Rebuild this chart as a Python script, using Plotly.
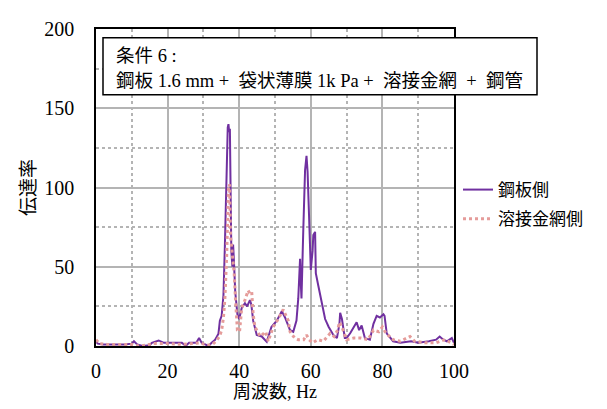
import plotly.graph_objects as go

# 鋼板側 (steel plate side)
freq_plate = [0, 0.5, 2, 5, 8, 10, 10.6, 11.5, 13, 15, 15.6, 17.5, 19, 22, 24, 24.6, 25, 26, 28, 28.8,
              29.5, 30.5, 31.4, 32.3, 33.2, 34.2, 34.6, 35.1, 35.6, 36, 36.5, 36.8, 37, 37.2, 37.4, 37.6,
              37.8, 38.1, 38.3, 38.5, 38.7, 38.9, 39.5, 40, 40.7, 41.6, 42.2, 43, 43.4, 43.9, 44.9, 46.3,
              47.7, 49, 50.5, 51.9, 52.8, 54.2, 55.1, 56, 56.5, 57, 57.2, 57.4, 57.9, 58.4, 58.8, 59.1,
              59.5, 60, 60.5, 60.7, 61.2, 61.4, 62.1, 62.6, 63.4, 64, 65, 66.3, 67.3, 68, 68.2, 68.7,
              69.5, 70, 71, 72.8, 73.5, 74.2, 75.1, 76.5, 77.5, 78.4, 79.3, 80.3, 80.6, 81.2, 83, 85,
              88, 90, 93, 95, 96, 97, 98, 99.4, 100]
val_plate = [3, 1.5, 1, 1, 1, 1.5, 3, 1, 0, 0.5, 2, 3.5, 2, 2, 2, 1, 0, 2, 2, 5,
             2, 1, 0, 2, 3.7, 7.7, 16, 19, 32, 63, 117, 138, 140, 135, 137, 100,
             60, 50, 64, 55, 45, 34, 20, 17, 24, 27, 25, 29, 26, 16, 7, 6,
             2.6, 12, 16, 22, 18, 10, 9, 16, 30, 55, 40, 30, 73, 111, 120, 110,
             83, 48, 60, 70, 72, 46, 38, 33, 23, 17, 12, 7, 5, 14, 21, 17,
             5, 5, 8, 15, 10, 13, 5, 4, 14, 19, 18, 20, 19, 8, 3, 2,
             3, 2, 3, 4, 6, 4, 3, 5, 2]

# 溶接金網側 (welded wire mesh side)
freq_mesh = [0, 1, 3, 6, 10, 12, 14, 16, 20, 24, 26, 29, 31, 32.5, 33.5, 34.5, 35.1, 35.6, 36, 36.5,
             37, 37.3, 37.6, 38.1, 38.6, 39, 39.5, 40.1, 40.7, 41.6, 42.5, 43, 43.5, 43.9, 44.4, 45.9,
             47.4, 48.1, 49.5, 50.9, 52.3, 53.7, 54.2, 55.5, 56.5, 58, 58.8, 59.5, 60.5, 62, 63.5, 65.4,
             66.5, 67.5, 68, 68.7, 70, 72, 74, 76, 77.5, 79, 80, 81, 83, 85, 87.7, 89, 92, 95, 97.5, 100]
val_mesh = [4, 1.5, 1, 1, 1, 0, 0.5, 1.5, 1.5, 1, 1.5, 2, 0.5, 1, 3, 6, 10, 18, 30, 57,
            99, 102, 69, 55, 46, 28, 10, 9, 24, 29, 35, 33, 34, 20, 12, 6,
            9, 3, 12, 17, 23, 16, 9, 5, 4, 4, 7, 4, 2, 4, 3, 8,
            6, 10, 15, 12, 4, 5, 5, 4, 10, 9, 12, 8, 4, 3, 6, 3, 2, 2, 4, 1]

x_ticks = [0, 20, 40, 60, 80, 100]
y_ticks = [0, 50, 100, 150, 200]

FONT = "Liberation Serif, Noto Sans CJK JP, serif"

# page offset (browser body margin) compensation
OFF = 8
L, R, T, B = 96, 454, 18, 346  # plot-area edges in page pixels
W, H = 607 - OFF, 409 - OFF
PW, PH = R - L, B - T


def px(x):
    return (x - L) / PW


def py(y):
    return (B - y) / PH


fig = go.Figure()
fig.add_trace(go.Scatter(x=freq_plate, y=val_plate, mode="lines", name="鋼板側",
                         legendgroup="a",
                         line=dict(color="#7030a0", width=2)))
fig.add_trace(go.Scatter(x=freq_mesh, y=val_mesh, mode="lines", name="溶接金網側",
                         legendgroup="b",
                         line=dict(color="#e59c9a", width=3, dash="3px,3px")))

axis_common = dict(showline=True, linecolor="black", linewidth=1.5, mirror=True,
                   showgrid=True, gridcolor="#b4b4b4", gridwidth=1.5, zeroline=False,
                   ticks="outside", tickcolor="rgba(0,0,0,0)",
                   tickfont=dict(family=FONT, size=20, color="black"))

fig.update_xaxes(range=[0, 100], tickvals=x_ticks, ticklen=6,
                 minor=dict(dtick=10, showgrid=True, griddash="dot", gridcolor="#b4b4b4", gridwidth=1.5),
                 title=dict(text="周波数, Hz", font=dict(family=FONT, size=18, color="black"), standoff=0),
                 **axis_common)
fig.update_yaxes(range=[0, 200], tickvals=y_ticks, ticklen=16,
                 minor=dict(dtick=25, showgrid=True, griddash="dot", gridcolor="#b4b4b4", gridwidth=1.5),
                 title=dict(text="伝達率", font=dict(family=FONT, size=19, color="black"), standoff=4),
                 **axis_common)

fig.add_shape(type="rect", xref="paper", yref="paper",
              x0=px(103), x1=px(537), y0=py(86), y1=py(27),
              line=dict(color="black", width=1.5), fillcolor="white", layer="above")
fig.add_annotation(xref="paper", yref="paper", x=px(114), y=py(46),
                   xanchor="left", yanchor="middle", showarrow=False,
                   text="条件 6 :", font=dict(family=FONT, size=18.5, color="black"))
fig.add_annotation(xref="paper", yref="paper", x=px(114), y=py(72),
                   xanchor="left", yanchor="middle", showarrow=False,
                   text="鋼板 1.6 mm +  袋状薄膜 1k Pa +  溶接金網  +  鋼管",
                   font=dict(family=FONT, size=18.5, color="black"))

fig.update_layout(
    width=W, height=H,
    margin=dict(l=L - OFF, r=W + OFF - R, t=T - OFF, b=H + OFF - B),
    plot_bgcolor="white", paper_bgcolor="white",
    legend=dict(x=px(458), y=py(166), xanchor="left", yanchor="top",
                font=dict(family=FONT, size=17, color="black"),
                itemwidth=30, traceorder="grouped", tracegroupgap=4,
                bgcolor="rgba(0,0,0,0)"),
)

fig.write_html("out.html")
